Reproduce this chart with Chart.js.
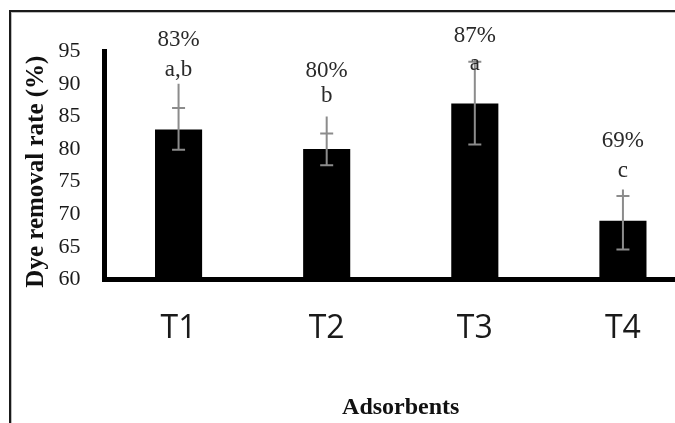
<!DOCTYPE html>
<html>
<head>
<meta charset="utf-8">
<script src="https://cdn.jsdelivr.net/npm/chart.js@4.4.1/dist/chart.umd.min.js"></script>
<style>
  html, body { margin: 0; padding: 0; width: 675px; height: 423px; overflow: hidden; background: #fff; }
  #frame { position: absolute; left: 9px; top: 10px; width: 760px; height: 480px;
           border-left: 2px solid #1a1a1a; border-top: 2px solid #1a1a1a;
           box-shadow: inset 1px 1px 0 #bdbdbd; }
  #wrap { position: absolute; left: 2px; top: 2px; width: 686px; height: 412px; }
</style>
</head>
<body>
<div id="frame"><div id="wrap"><canvas id="c" width="686" height="412"></canvas></div></div>
<script>
// ---- data ----
const categories   = ["T1", "T2", "T3", "T4"];
const removalRate  = [83, 80, 87, 69];          // bar heights (%)
const errLow       = [79.9, 77.5, 80.7, 64.6];  // lower cap
const errHigh      = [86.3, 82.4, 93.4, 72.8];  // upper cap
const whiskerTop   = [90.0, 85.0, 93.8, 73.8];  // top of the grey line
const pctLabels    = ["83%", "80%", "87%", "69%"];
const groupLetters = ["a,b", "b", "a", "c"];
const pctLevel     = [96.8, 92.0, 97.3, 81.3];  // where the % text sits (value units)
const letterLevel  = [92.2, 88.2, 93.0, 76.7];  // where the letter sits (value units)
const yTicks       = [60, 65, 70, 75, 80, 85, 90, 95];

const annotate = {
  id: 'annotate',
  afterDatasetsDraw(chart) {
    const ctx = chart.ctx, xs = chart.scales.x, ys = chart.scales.y;
    ctx.save();
    ctx.strokeStyle = '#8c8c8c';
    ctx.lineWidth = 2;
    categories.forEach((c, i) => {
      const x = xs.getPixelForValue(i);
      const yTop = ys.getPixelForValue(whiskerTop[i]);
      const yHi = ys.getPixelForValue(errHigh[i]);
      const yLo = ys.getPixelForValue(errLow[i]);
      ctx.beginPath();
      ctx.moveTo(x, yTop); ctx.lineTo(x, yLo);
      ctx.moveTo(x - 6.5, yHi); ctx.lineTo(x + 6.5, yHi);
      ctx.moveTo(x - 6.5, yLo); ctx.lineTo(x + 6.5, yLo);
      ctx.stroke();
    });
    ctx.fillStyle = '#2a2a2a';
    ctx.textAlign = 'center';
    ctx.textBaseline = 'middle';
    ctx.font = '23px "Liberation Serif", "Times New Roman", serif';
    categories.forEach((c, i) => {
      const x = xs.getPixelForValue(i);
      ctx.fillText(pctLabels[i], x, ys.getPixelForValue(pctLevel[i]));
      ctx.fillText(groupLetters[i], x, ys.getPixelForValue(letterLevel[i]));
    });
    ctx.restore();
  }
};

new Chart(document.getElementById('c'), {
  type: 'bar',
  data: {
    labels: categories,
    datasets: [{
      data: removalRate,
      backgroundColor: '#000000',
      borderWidth: 0,
      barPercentage: 0.318,
      categoryPercentage: 1.0
    }]
  },
  options: {
    responsive: false,
    animation: false,
    layout: { padding: { left: 0, right: 2, top: 37, bottom: 0 } },
    plugins: { legend: { display: false }, tooltip: { enabled: false } },
    scales: {
      x: {
        afterFit(axis) { axis.height = 146.5; },
        grid: { display: false, drawTicks: false },
        border: { display: true, color: '#000', width: 5 },
        ticks: { color: '#1a1a1a', padding: 30.5,
                 font: { family: '"Open Sans", sans-serif', size: 32 } },
        title: { display: true, text: 'Adsorbents', color: '#111',
                 padding: { top: 0, bottom: 3.4 },
                 font: { family: '"Liberation Serif", serif', size: 24, weight: 'bold' } }
      },
      y: {
        min: 60, max: 95,
        afterFit(axis) { axis.width = 91.5; },
        afterBuildTicks(axis) { axis.ticks = yTicks.map(v => ({ value: v })); },
        grid: { display: false, drawTicks: false },
        border: { display: true, color: '#000', width: 5 },
        ticks: { color: '#1a1a1a', padding: 24,
                 font: { family: '"Liberation Serif", serif', size: 22 } },
        title: { display: true, text: 'Dye removal rate (%)  ', color: '#111',
                 padding: { top: 9, bottom: 0 },
                 font: { family: '"Liberation Serif", serif', size: 25, weight: 'bold' } }
      }
    }
  },
  plugins: [annotate]
});
</script>
</body>
</html>
